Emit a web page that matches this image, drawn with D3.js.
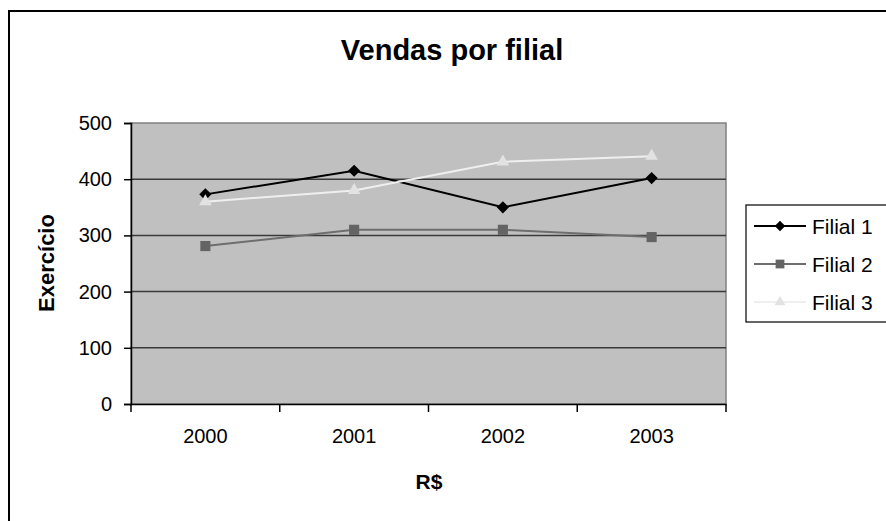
<!DOCTYPE html>
<html>
<head>
<meta charset="utf-8">
<script src="https://cdn.jsdelivr.net/npm/d3@7"></script>
<style>
  body { margin: 0; background: #fff; }
  svg { display: block; font-family: "Liberation Sans", Arial, sans-serif; }
</style>
</head>
<body>
<div class="chart"></div>
<script>
const years = ["2000", "2001", "2002", "2003"];
const filial1 = [373, 415, 350, 402];
const filial2 = [281, 310, 310, 297];
const filial3 = [360, 380, 431, 441];
const seriesNames = ["Filial 1", "Filial 2", "Filial 3"];
const yTicks = [0, 100, 200, 300, 400, 500];

const w = 886;
const h = 521;
const plot = { left: 131, right: 726, top: 123, bottom: 404 };

const svg = d3
  .select(".chart")
  .append("svg")
  .attr("width", w)
  .attr("height", h);

// outer chart frame (right and bottom edges fall outside the window)
svg.append("rect")
  .attr("x", 9).attr("y", 11)
  .attr("width", 1000).attr("height", 1000)
  .attr("fill", "none")
  .attr("stroke", "#000")
  .attr("stroke-width", 2);

const x = d3.scaleBand().domain(years).range([plot.left, plot.right]);
const y = d3.scaleLinear().domain([0, 500]).range([plot.bottom, plot.top]);

// plot area
svg.append("rect")
  .attr("x", plot.left).attr("y", plot.top)
  .attr("width", plot.right - plot.left)
  .attr("height", plot.bottom - plot.top)
  .attr("fill", "#c0c0c0")
  .attr("stroke", "#808080")
  .attr("stroke-width", 1.5);

// gridlines
svg.append("g")
  .selectAll("line")
  .data(yTicks.filter((d) => d > 0 && d < 500))
  .enter()
  .append("line")
  .attr("x1", plot.left).attr("x2", plot.right)
  .attr("y1", (d) => y(d)).attr("y2", (d) => y(d))
  .attr("stroke", "#3a3a3a")
  .attr("stroke-width", 1.5);

// y axis
const yAxis = svg.append("g")
  .attr("transform", `translate(${plot.left},0)`)
  .call(d3.axisLeft(y).tickValues(yTicks).tickSize(7).tickPadding(12));
yAxis.selectAll("text").style("font-size", "20px").attr("fill", "#000");
yAxis.selectAll("line,path").attr("stroke", "#000").attr("stroke-width", 1.5);

// x axis
const xAxis = svg.append("g")
  .attr("transform", `translate(0,${plot.bottom})`)
  .call(d3.axisBottom(x).tickSize(0).tickPadding(25));
xAxis.selectAll("text").style("font-size", "20px").attr("fill", "#000");
xAxis.select("path").attr("stroke", "#000").attr("stroke-width", 1.5);
xAxis.selectAll("line.band")
  .data(d3.range(years.length + 1))
  .enter()
  .append("line")
  .attr("class", "band")
  .attr("x1", (i) => plot.left + i * x.step())
  .attr("x2", (i) => plot.left + i * x.step())
  .attr("y1", 0).attr("y2", 8)
  .attr("stroke", "#000")
  .attr("stroke-width", 1.5);

// titles
svg.append("text")
  .attr("x", 452).attr("y", 60)
  .attr("text-anchor", "middle")
  .style("font-size", "29px").style("font-weight", "bold")
  .text("Vendas por filial");

svg.append("text")
  .attr("transform", "translate(54,263) rotate(-90)")
  .attr("text-anchor", "middle")
  .style("font-size", "22px").style("font-weight", "bold")
  .text("Exercício");

svg.append("text")
  .attr("x", 429).attr("y", 489)
  .attr("text-anchor", "middle")
  .style("font-size", "21px").style("font-weight", "bold")
  .text("R$");

// series
const series = [
  { name: seriesNames[0], values: filial1, line: "#000", fill: "#000", shape: d3.symbolDiamond2, size: 95 },
  { name: seriesNames[1], values: filial2, line: "#6e6e6e", fill: "#646464", shape: d3.symbolSquare2, size: 130 },
  { name: seriesNames[2], values: filial3, line: "#efefef", fill: "#e2e2e2", shape: d3.symbolTriangle2, size: 115 },
];

const line = d3.line()
  .x((d, i) => x(years[i]) + x.bandwidth() / 2)
  .y((d) => y(d));

series.forEach((s) => {
  svg.append("path")
    .datum(s.values)
    .attr("d", line)
    .attr("fill", "none")
    .attr("stroke", s.line)
    .attr("stroke-width", 2);

  svg.append("g")
    .selectAll("path")
    .data(s.values)
    .enter()
    .append("path")
    .attr("d", d3.symbol().type(s.shape).size(s.size))
    .attr("transform", (d, i) =>
      `translate(${x(years[i]) + x.bandwidth() / 2},${y(d)})`)
    .attr("fill", s.fill);
});

// legend
const legend = svg.append("g").attr("transform", "translate(746,205)");
legend.append("rect")
  .attr("width", 200).attr("height", 117)
  .attr("fill", "#fff")
  .attr("stroke", "#000")
  .attr("stroke-width", 1.2);

const item = legend.selectAll("g.item")
  .data(series)
  .enter()
  .append("g")
  .attr("class", "item")
  .attr("transform", (d, i) => `translate(0,${21 + i * 38})`);

item.append("line")
  .attr("x1", 8).attr("x2", 60)
  .attr("stroke", (d) => d.line)
  .attr("stroke-width", 2);
item.append("path")
  .attr("d", (d) => d3.symbol().type(d.shape).size(d.size * 0.75)())
  .attr("transform", "translate(34,0)")
  .attr("fill", (d) => d.fill);
item.append("text")
  .attr("x", 66).attr("dy", "0.36em")
  .style("font-size", "21px")
  .text((d) => d.name);
</script>
</body>
</html>
